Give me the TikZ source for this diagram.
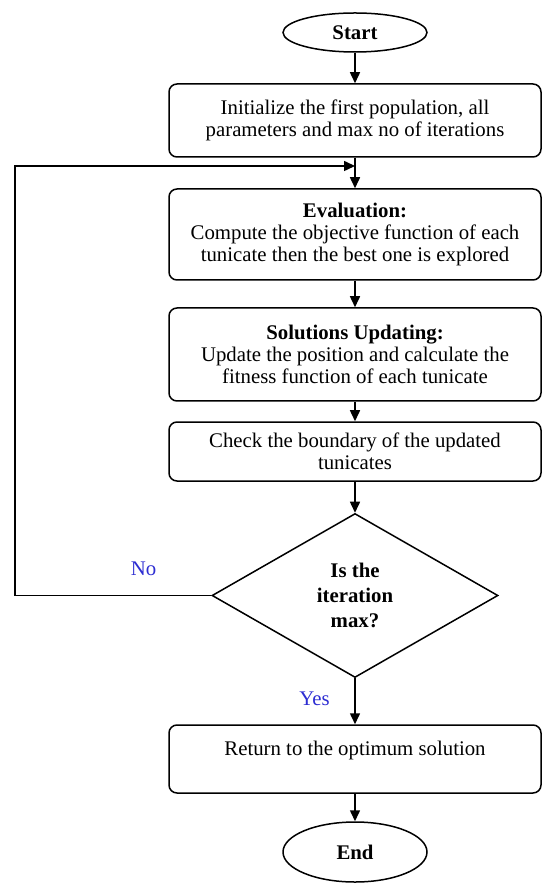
\documentclass[tikz,border=0pt]{standalone}
\usepackage{fontspec}
\setmainfont{Liberation Serif}
\usetikzlibrary{shapes.geometric,arrows.meta}
\definecolor{answerblue}{RGB}{45,45,210}

\begin{document}
\begin{tikzpicture}[x=1pt, y=1pt,
    every node/.style={font=\fontsize{10.4}{11}\selectfont, inner sep=0pt},
    terminal/.style={ellipse, draw, line width=0.75pt, minimum width=72pt},
    process/.style={rectangle, rounded corners=4pt, draw, line width=0.75pt,
        minimum width=186pt, align=center},
    decision/.style={diamond, draw, line width=0.75pt, minimum width=143pt,
        minimum height=82pt, align=center, font=\fontsize{10.4}{12.3}\selectfont\bfseries},
    flow/.style={line width=0.75pt, -{Triangle[length=5.5pt,width=5pt]}},
    answer/.style={text=answerblue}]
    \useasboundingbox (0,0) rectangle (271,-443);

    % Start and set up
    \node[terminal, minimum height=19.5pt] (start) at (177.5,-16.25) {\textbf{Start}};
    \node[process, minimum height=36.5pt] (init) at (177.5,-60.25)
        {Initialize the first population, all\\parameters and max no of iterations};

    % Main loop
    \node[process, minimum height=45.5pt] (eval) at (177.5,-117.25)
        {\textbf{Evaluation:}\\Compute the objective function of each\\tunicate then the best one is explored};
    \node[process, minimum height=46.5pt] (update) at (177.5,-177.25)
        {\textbf{Solutions Updating:}\\Update the position and calculate the\\fitness function of each tunicate};
    \node[process, minimum height=29.5pt] (check) at (177.5,-225.75)
        {Check the boundary of the updated\\tunicates};
    \node[decision] (test) at (177.5,-297.75) {Is the\\iteration\\max?};

    % Finish
    \node[process, minimum height=34pt] (result) at (177.5,-379.5)
        {Return to the optimum solution\\\mbox{}};
    \node[terminal, minimum height=30pt] (end) at (177.5,-426) {\textbf{End}};

    % Connectors
    \coordinate (rejoin) at (177.5,-83);
    \draw[flow] (start) -- (init);
    \draw[flow] (init) -- (eval);
    \draw[flow] (eval) -- (update);
    \draw[flow] (update) -- (check);
    \draw[flow] (check) -- (test);
    \draw[flow] (test) -- (result);
    \draw[flow] (result) -- (end);
    \draw[flow] (test.west) -- (7.5,-297.75) |- (rejoin);

    % Branch labels
    \node[answer] (no) at (71.75,-284.5) {No};
    \node[answer] (yes) at (157.25,-349.5) {Yes};
\end{tikzpicture}
\end{document}
